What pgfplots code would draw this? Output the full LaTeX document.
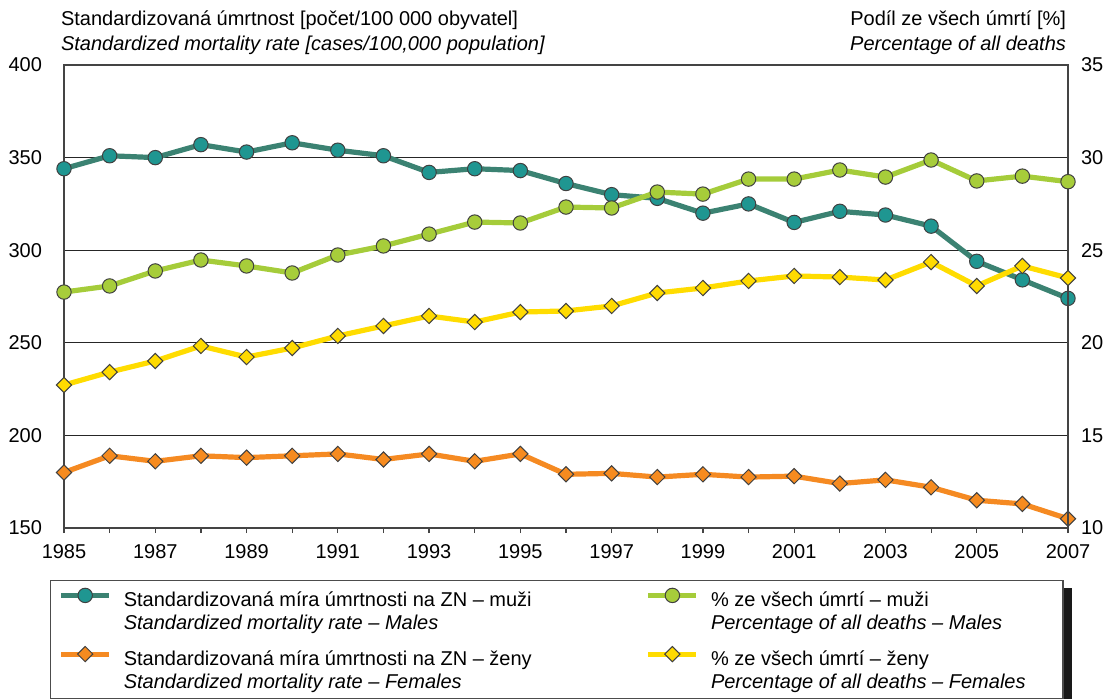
\documentclass[border=0pt]{standalone}
\usepackage{pgfplots}
\pgfplotsset{compat=1.18}
\usepackage{fontspec}
\setmainfont{Liberation Sans}

\definecolor{tealline}{HTML}{3B8272}
\definecolor{tealfill}{HTML}{1F9691}
\definecolor{greenline}{HTML}{A5CC3A}
\definecolor{greenfill}{HTML}{A7CD3A}
\definecolor{orangeline}{HTML}{F58A22}
\definecolor{orangefill}{HTML}{F68B1F}
\definecolor{yellowline}{HTML}{FFDC00}
\definecolor{yellowfill}{HTML}{FFDA00}
\definecolor{axisgray}{HTML}{444444}

\pgfplotsset{
  base/.style={
    scale only axis, width=502pt, height=231.5pt,
    xmin=1985, xmax=2007,
    clip=false,
    /pgf/number format/assume math mode=true,
    ticklabel style={font=\fontsize{10}{12}\selectfont},
    axis line style={axisgray, line width=0.7pt},
    tick style={axisgray, line width=0.6pt},
  },
  males rate/.style={tealline, line width=2.6pt, mark=*, mark size=3.6pt,
    mark options={fill=tealfill, draw=black!75, line width=0.5pt}},
  females rate/.style={orangeline, line width=2.6pt, mark=square*, mark size=2.7pt,
    mark options={rotate=45, fill=orangefill, draw=black!75, line width=0.5pt}},
  males pct/.style={greenline, line width=2.6pt, mark=*, mark size=3.6pt,
    mark options={fill=greenfill, draw=black!75, line width=0.5pt}},
  females pct/.style={yellowline, line width=2.6pt, mark=square*, mark size=2.7pt,
    mark options={rotate=45, fill=yellowfill, draw=black!75, line width=0.5pt}},
}
\newcommand{\entry}[3]{\begin{tabular}[b]{@{}p{#1}@{}}#2\\\itshape #3\end{tabular}}

\begin{document}
\fontsize{10}{11.5}\selectfont
\begin{tikzpicture}
\begin{axis}[
  base,
  ymin=150, ymax=400,
  xtick={1985,1987,...,2007},
  minor xtick={1986,1988,...,2006},
  xticklabel style={/pgf/number format/1000 sep={}, yshift=-2pt},
  xtick pos=lower, ytick pos=left,
  tick align=outside,
  major tick length=2.5pt, minor tick length=2.5pt,
  ytick={150,200,...,400},
  ytick style={draw=none},
  yticklabel style={xshift=-5pt},
  ymajorgrids, grid style={black!85, line width=0.55pt},
]
\addplot[males rate] coordinates {
(1985,344) (1986,351) (1987,350) (1988,357) (1989,353) (1990,358)
(1991,354) (1992,351) (1993,342) (1994,344) (1995,343) (1996,336)
(1997,330) (1998,328) (1999,320) (2000,325) (2001,315) (2002,321)
(2003,319) (2004,313) (2005,294) (2006,284) (2007,274)
};
\addplot[females rate] coordinates {
(1985,180) (1986,189) (1987,186) (1988,189) (1989,188) (1990,189)
(1991,190) (1992,187) (1993,190) (1994,186) (1995,190) (1996,179)
(1997,179.5) (1998,177.5) (1999,179) (2000,177.5) (2001,178) (2002,174)
(2003,176) (2004,172) (2005,165) (2006,163) (2007,155)
};
\node[anchor=base west, font=\fontsize{10}{12.5}\selectfont]
  at ([xshift=-5pt, yshift=20pt]rel axis cs:0,1) {Standardizovaná úmrtnost [počet/100 000 obyvatel]};
\node[anchor=base west, font=\fontsize{10}{12.5}\selectfont\itshape]
  at ([xshift=-5pt, yshift=7.5pt]rel axis cs:0,1) {Standardized mortality rate [cases/100,000 population]};
\node[anchor=base east, font=\fontsize{10}{12.5}\selectfont]
  at ([xshift=2.5pt, yshift=20pt]rel axis cs:1,1) {Podíl ze všech úmrtí [\%]};
\node[anchor=base east, font=\fontsize{10}{12.5}\selectfont\itshape]
  at ([xshift=2.5pt, yshift=7.5pt]rel axis cs:1,1) {Percentage of all deaths};
\end{axis}

\begin{axis}[
  base,
  ymin=10, ymax=35,
  axis x line=none,
  axis y line*=right,
  ytick={10,15,...,35},
  ytick style={draw=none},
  yticklabel style={xshift=3pt},
  legend columns=2,
  legend cell align=left,
  legend image code/.code={%
    \draw[mark repeat=2, mark phase=2, #1] plot coordinates {(0pt,8pt) (12pt,8pt) (24pt,8pt)};},
  legend style={
    name=leg,
    at={(0,0)}, anchor=north west, xshift=-7pt, yshift=-26pt,
    draw=black!70, line width=0.6pt, fill=white,
    inner xsep=4pt, inner ysep=3.8pt,
    row sep=7pt,
    nodes={inner sep=0pt},
    /tikz/every odd column/.append style={column sep=6pt},
    /tikz/every even column/.append style={column sep=12pt},
  },
]
\addlegendimage{males rate}
\addlegendentry{\entry{249pt}{Standardizovaná míra úmrtnosti na ZN – muži}{Standardized mortality rate – Males}}
\addlegendimage{males pct}
\addlegendentry{\entry{172pt}{\% ze všech úmrtí – muži}{Percentage of all deaths – Males}}
\addlegendimage{females rate}
\addlegendentry{\entry{249pt}{Standardizovaná míra úmrtnosti na ZN – ženy}{Standardized mortality rate – Females}}
\addlegendimage{females pct}
\addlegendentry{\entry{172pt}{\% ze všech úmrtí – ženy}{Percentage of all deaths – Females}}

\addplot[males pct, forget plot] coordinates {
(1985,22.74) (1986,23.07) (1987,23.88) (1988,24.47) (1989,24.15) (1990,23.77)
(1991,24.74) (1992,25.23) (1993,25.87) (1994,26.52) (1995,26.47) (1996,27.33)
(1997,27.28) (1998,28.14) (1999,28.03) (2000,28.84) (2001,28.84) (2002,29.33)
(2003,28.95) (2004,29.87) (2005,28.74) (2006,29.0) (2007,28.7)
};
\addplot[females pct, forget plot] coordinates {
(1985,17.72) (1986,18.42) (1987,19.02) (1988,19.83) (1989,19.23) (1990,19.72)
(1991,20.37) (1992,20.91) (1993,21.45) (1994,21.12) (1995,21.66) (1996,21.72)
(1997,21.99) (1998,22.69) (1999,22.96) (2000,23.34) (2001,23.61) (2002,23.55)
(2003,23.39) (2004,24.36) (2005,23.07) (2006,24.15) (2007,23.5)
};
\end{axis}
\fill[black!90] ([yshift=-4pt]leg.north east) rectangle ([xshift=4pt,yshift=-4pt]leg.south east);
\pgfresetboundingbox
\path[use as bounding box] (-32pt,-85pt) rectangle (527pt,264pt);
\end{tikzpicture}
\end{document}
